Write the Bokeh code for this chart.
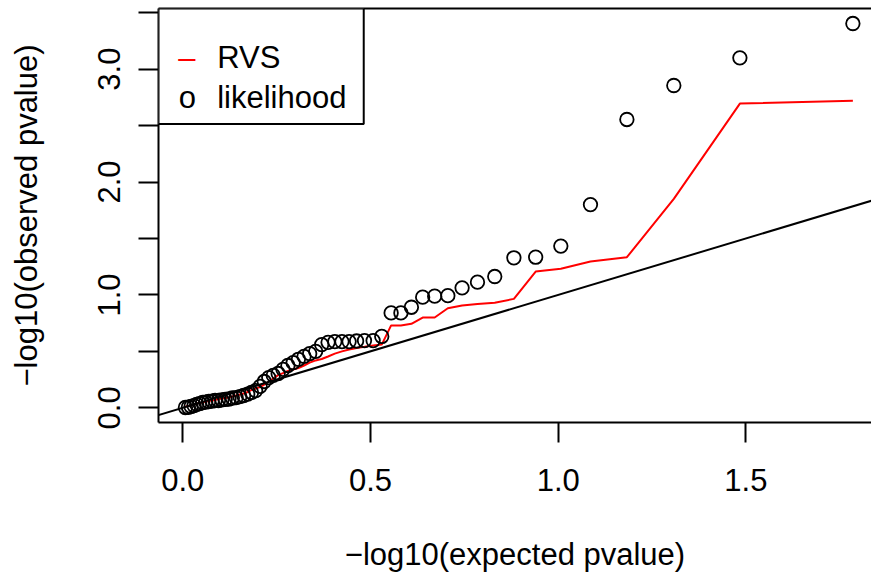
from bokeh.plotting import figure
from bokeh.models import FixedTicker, LinearAxis, Range1d, Slope, BoxAnnotation, Label
from bokeh.embed import file_html
from bokeh.resources import INLINE

# expected -log10 p-values (60 tests)
expected = [1.785, 1.484, 1.308, 1.183, 1.086, 1.007, 0.940, 0.882, 0.831, 0.785,
            0.744, 0.706, 0.671, 0.639, 0.609, 0.581, 0.555, 0.530, 0.507, 0.484,
            0.463, 0.443, 0.424, 0.405, 0.387, 0.370, 0.354, 0.338, 0.323, 0.308,
            0.294, 0.280, 0.267, 0.254, 0.241, 0.229, 0.217, 0.206, 0.194, 0.183,
            0.173, 0.162, 0.152, 0.142, 0.132, 0.123, 0.113, 0.104, 0.095, 0.086,
            0.078, 0.069, 0.061, 0.053, 0.045, 0.037, 0.030, 0.022, 0.015, 0.007]

likelihood = [3.404, 3.100, 2.855, 2.554, 1.800, 1.433, 1.334, 1.329, 1.163, 1.113,
              1.063, 0.993, 0.989, 0.980, 0.891, 0.841, 0.841, 0.632, 0.596, 0.596,
              0.592, 0.587, 0.587, 0.587, 0.580, 0.560, 0.500, 0.480, 0.455, 0.430,
              0.400, 0.375, 0.340, 0.304, 0.287, 0.268, 0.233, 0.190, 0.153, 0.136,
              0.122, 0.109, 0.100, 0.091, 0.087, 0.078, 0.074, 0.070, 0.065, 0.065,
              0.060, 0.056, 0.050, 0.047, 0.038, 0.030, 0.020, 0.012, 0.005, 0.003]

rvs = [2.721, 2.695, 1.851, 1.334, 1.296, 1.231, 1.207, 0.965, 0.930, 0.920,
       0.906, 0.882, 0.800, 0.800, 0.744, 0.730, 0.730, 0.560, 0.552, 0.540,
       0.530, 0.516, 0.500, 0.480, 0.455, 0.432, 0.420, 0.400, 0.375, 0.352,
       0.340, 0.326, 0.308, 0.290, 0.260, 0.233, 0.206, 0.184, 0.171, 0.158,
       0.140, 0.127, 0.118, 0.109, 0.100, 0.091, 0.087, 0.082, 0.078, 0.069,
       0.065, 0.060, 0.056, 0.047, 0.042, 0.038, 0.029, 0.020, 0.016, 0.012]

x_ticks = [0.0, 0.5, 1.0, 1.5]
x_tick_labels = ["0.0", "0.5", "1.0", "1.5"]
y_ticks = [0.0, 0.5, 1.0, 1.5, 2.0, 2.5, 3.0, 3.5]
y_tick_labels = ["0.0", "", "1.0", "", "2.0", "", "3.0", ""]

legend_labels = ["RVS", "likelihood"]

FONT = "Liberation Sans"
FS = "31px"

X0, X1 = -0.0647, 1.8346
Y0, Y1 = -0.130, 3.537

p = figure(width=871, height=578, output_backend="svg", toolbar_location=None,
           x_range=Range1d(X0, X1), y_range=Range1d(Y0, Y1),
           x_axis_location=None, y_axis_location=None,
           min_border_left=158, min_border_right=0, min_border_top=8,
           min_border_bottom=156)
p.grid.visible = False
p.outline_line_color = None
p.background_fill_color = "white"
p.border_fill_color = "white"

xax = LinearAxis()
yax = LinearAxis()
p.add_layout(xax, "below")
p.add_layout(yax, "left")

# top border drawn by a bare axis
top = LinearAxis(ticker=FixedTicker(ticks=[]), axis_line_width=2,
                 axis_line_color="black", major_tick_out=0, major_tick_in=0,
                 minor_tick_out=0, minor_tick_in=0, major_label_text_font_size="0px",
                 major_label_standoff=0)
p.add_layout(top, "above")

for ax, ticks, labels in ((xax, x_ticks, x_tick_labels),
                          (yax, y_ticks, y_tick_labels)):
    ax.ticker = FixedTicker(ticks=ticks)
    ax.major_label_overrides = {float(t): l for t, l in zip(ticks, labels)}
    ax.axis_line_width = 2
    ax.axis_line_color = "black"
    ax.major_tick_line_width = 2
    ax.major_tick_out = 20
    ax.major_tick_in = 0
    ax.minor_tick_out = 0
    ax.minor_tick_in = 0
    ax.major_label_text_font = FONT
    ax.major_label_text_font_size = FS
    ax.major_label_text_color = "black"
    ax.axis_label_text_font = FONT
    ax.axis_label_text_font_size = FS
    ax.axis_label_text_font_style = "normal"
    ax.axis_label_text_color = "black"

xax.axis_label = "\u2212log10(expected pvalue)"
yax.axis_label = "\u2212log10(observed pvalue)"
xax.major_label_standoff = 26
xax.axis_label_standoff = 43
yax.major_label_orientation = "vertical"
yax.major_label_standoff = 18
yax.axis_label_standoff = 52

p.add_layout(Slope(gradient=1, y_intercept=0, line_color="black", line_width=2))

p.line(expected, rvs, line_color="red", line_width=2)
p.scatter(expected, likelihood, marker="circle", size=13.5, fill_color=None,
          line_color="black", line_width=1.8)

# legend (R style)
p.add_layout(BoxAnnotation(left=X0, right=0.482, bottom=2.515, top=Y1,
                           fill_color="white", fill_alpha=1.0,
                           line_color="black", line_alpha=1.0, line_width=2))
p.add_layout(Label(x=0.0112, y=3.10, text="\u2013", text_align="center",
                   text_baseline="alphabetic", text_font=FONT,
                   text_font_size=FS, text_color="red"))
p.add_layout(Label(x=0.0125, y=2.746, text="o", text_align="center",
                   text_baseline="alphabetic", text_font=FONT,
                   text_font_size=FS, text_color="black"))
p.add_layout(Label(x=0.0916, y=3.100, text=legend_labels[0], text_align="left",
                   text_baseline="alphabetic", text_font=FONT,
                   text_font_size=FS, text_color="black"))
p.add_layout(Label(x=0.0916, y=2.746, text=legend_labels[1], text_align="left",
                   text_baseline="alphabetic", text_font=FONT,
                   text_font_size=FS, text_color="black"))

open("out.html", "w").write(file_html(p, INLINE))
